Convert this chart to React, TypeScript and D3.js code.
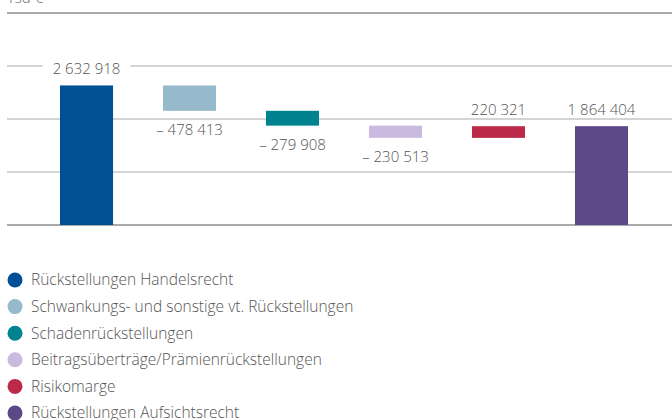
import React, { useEffect, useRef } from "react";
import * as d3 from "d3";

const categories = [
  "Rückstellungen Handelsrecht",
  "Schwankungs- und sonstige vt. Rückstellungen",
  "Schadenrückstellungen",
  "Beitragsüberträge/Prämienrückstellungen",
  "Risikomarge",
  "Rückstellungen Aufsichtsrecht",
];
const values = [2632918, -478413, -279908, -230513, 220321, 1864404];
const isTotal = [true, false, false, false, false, true];
const colors = ["#005095", "#96bacb", "#00838f", "#cbbadf", "#bb2b49", "#5c4886"];
const yTicks = [0, 1000000, 2000000, 3000000, 4000000];
const unitLabel = "Tsd €";

const W = 672;
const H = 420;
const FONT = "'Open Sans', Lato, sans-serif";

export default function App() {
  const ref = useRef<SVGSVGElement | null>(null);

  useEffect(() => {
    const svg = d3.select(ref.current);
    svg.selectAll("*").remove();

    const y = d3.scaleLinear().domain([0, 4000000]).range([225, 13]);
    const x = d3.scaleBand<string>().domain(categories).range([60, 628]).paddingInner(0.485).paddingOuter(0);

    const loc = d3.formatLocale({ decimal: ",", thousands: " ", grouping: [3], currency: ["", " €"], minus: "– " } as any);
    const fmt = loc.format(",d");

    let run = 0;
    const segs = values.map((v, i) => {
      let y0: number, y1: number;
      if (isTotal[i]) {
        y0 = 0;
        y1 = v;
        run = v;
      } else {
        y0 = run;
        y1 = run + v;
        run = y1;
      }
      return { cat: categories[i], v, lo: Math.min(y0, y1), hi: Math.max(y0, y1), color: colors[i], total: isTotal[i] };
    });

    svg
      .append("g")
      .selectAll("line")
      .data(yTicks)
      .join("line")
      .attr("x1", 7)
      .attr("x2", W)
      .attr("y1", (d) => y(d))
      .attr("y2", (d) => y(d))
      .attr("stroke", (d, i) => (i === 0 || i === yTicks.length - 1 ? "#aaaaaa" : "#c6c6c6"))
      .attr("stroke-width", (d, i) => (i === 0 || i === yTicks.length - 1 ? 2 : 1.5));

    svg
      .append("text")
      .attr("x", 7)
      .attr("y", 3)
      .attr("font-family", FONT)
      .attr("font-weight", 300)
      .attr("font-size", 15)
      .attr("fill", "#666")
      .text(unitLabel);

    svg
      .append("g")
      .selectAll("rect")
      .data(segs)
      .join("rect")
      .attr("x", (d) => x(d.cat)!)
      .attr("width", x.bandwidth())
      .attr("y", (d) => y(d.hi))
      .attr("height", (d) => y(d.lo) - y(d.hi))
      .attr("fill", (d) => d.color);

    const lg = svg.append("g");
    segs.forEach((d) => {
      const cx = x(d.cat)! + x.bandwidth() / 2;
      const ty = d.v < 0 ? y(d.lo) + 24 : y(d.hi) - 11;
      const g = lg.append("g");
      const bg = g.append("rect").attr("fill", "#fff");
      const t = g
        .append("text")
        .attr("x", cx)
        .attr("y", ty)
        .attr("text-anchor", "middle")
        .attr("font-family", FONT)
        .attr("font-weight", 300)
        .attr("font-size", 15)
        .attr("fill", "#555")
        .text(fmt(d.v));
      const bb = (t.node() as SVGTextElement).getBBox();
      bg.attr("x", bb.x - 10).attr("y", ty - 12).attr("width", bb.width + 20).attr("height", 14);
    });

    const leg = svg
      .append("g")
      .selectAll("g")
      .data(categories)
      .join("g")
      .attr("transform", (d, i) => `translate(0, ${280 + i * 26.6})`);
    leg.append("circle").attr("cx", 15).attr("cy", 0).attr("r", 7.5).attr("fill", (d, i) => colors[i]);
    leg
      .append("text")
      .attr("x", 31)
      .attr("y", 0)
      .attr("dy", "0.35em")
      .attr("font-family", FONT)
      .attr("font-weight", 300)
      .attr("font-size", 15.5)
      .attr("fill", "#555")
      .text((d) => d);
  }, []);

  return (
    <svg
      ref={ref}
      width={W}
      height={H}
      style={{ position: "absolute", left: 0, top: 0, background: "#fff" }}
    />
  );
}
